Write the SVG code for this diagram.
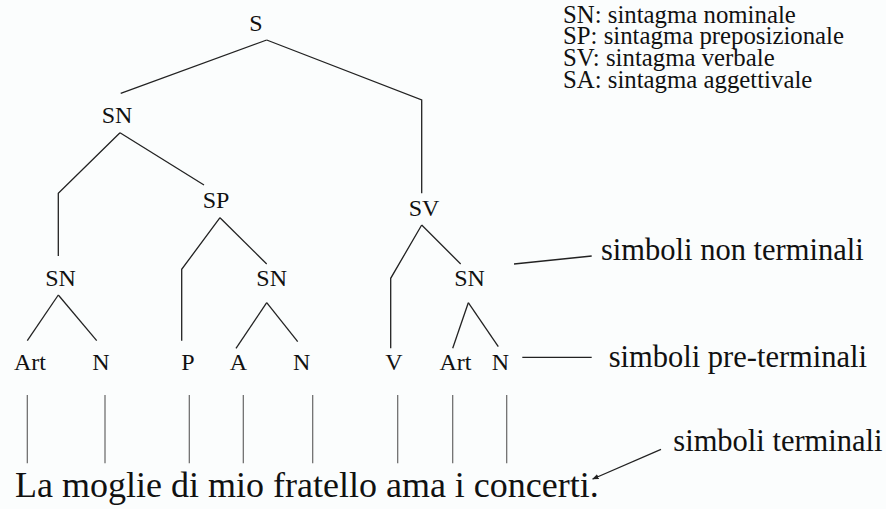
<svg xmlns="http://www.w3.org/2000/svg" width="886" height="509" viewBox="0 0 886 509" font-family="'Liberation Serif', serif">
  <style>
    .bg { fill: #fbfdfd; }
    .lbl { font-size: 24px; fill: #111; text-anchor: middle; }
    .legend { font-size: 24.8px; fill: #111; }
    .note { font-size: 30.5px; fill: #111; }
    .sentence { font-size: 36px; fill: #111; }
    .edge { fill: none; stroke: #222; stroke-width: 1.3; }
    .leaf { fill: none; stroke: #666; stroke-width: 1.2; }
    .pointer { fill: none; stroke: #222; stroke-width: 1.3; }
  </style>
  <defs>
    <marker id="tip" viewBox="0 0 10 10" refX="9" refY="5" markerWidth="5" markerHeight="5" orient="auto">
      <path d="M0,1 L10,5 L0,9 Z" fill="#222"/>
    </marker>
  </defs>

  <rect class="bg" x="0" y="0" width="886" height="509"/>

  <!-- legend of phrase abbreviations -->
  <g id="legend">
    <text class="legend" x="563" y="22.7">SN: sintagma nominale</text>
    <text class="legend" x="563" y="44.4">SP: sintagma preposizionale</text>
    <text class="legend" x="563" y="66.1">SV: sintagma verbale</text>
    <text class="legend" x="563" y="87.8">SA: sintagma aggettivale</text>
  </g>

  <!-- tree branches -->
  <g id="connectors">
    <polyline class="edge" points="266.7,40 120.7,93.3"/>
    <polyline class="edge" points="266.7,40 421.7,100 421.7,193.3"/>
    <polyline class="edge" points="120,132.7 58.3,193.3 58.3,256"/>
    <polyline class="edge" points="120,132.7 204,185"/>
    <polyline class="edge" points="220,217.7 181.7,269.3 181.7,340.7"/>
    <polyline class="edge" points="220,217.7 266.7,264"/>
    <polyline class="edge" points="58.3,295 27.3,340.7"/>
    <polyline class="edge" points="58.3,295 96.7,340.7"/>
    <polyline class="edge" points="266.7,302.7 236,348.3"/>
    <polyline class="edge" points="266.7,302.7 297.7,341.7"/>
    <polyline class="edge" points="421.7,225 390.7,278.3 390.7,348.3"/>
    <polyline class="edge" points="421.7,225 460.7,264"/>
    <polyline class="edge" points="468.3,302.7 452.7,348.3"/>
    <polyline class="edge" points="468.3,302.7 498.3,346.7"/>
    <!-- pre-terminal to word links -->
    <line class="leaf" x1="27.3" y1="395" x2="27.3" y2="463.3"/>
    <line class="leaf" x1="105" y1="395" x2="105" y2="463.3"/>
    <line class="leaf" x1="189.3" y1="395" x2="189.3" y2="463.3"/>
    <line class="leaf" x1="243.3" y1="395" x2="243.3" y2="463.3"/>
    <line class="leaf" x1="312.7" y1="395" x2="312.7" y2="463.3"/>
    <line class="leaf" x1="397.7" y1="395" x2="397.7" y2="463.3"/>
    <line class="leaf" x1="452.7" y1="395" x2="452.7" y2="463.3"/>
    <line class="leaf" x1="506.7" y1="395" x2="506.7" y2="463.3"/>
    <!-- annotation pointers -->
    <line class="pointer" x1="514" y1="264" x2="591.7" y2="256"/>
    <line class="pointer" x1="522.3" y1="357.3" x2="591.7" y2="357.3"/>
    <line class="pointer" x1="661" y1="449.3" x2="592.7" y2="479" marker-end="url(#tip)"/>
  </g>

  <!-- nodes -->
  <g id="node-S"><text class="lbl" x="256" y="30.7">S</text></g>
  <g id="node-SN1"><text class="lbl" x="117" y="122.7">SN</text></g>
  <g id="node-SP"><text class="lbl" x="216" y="208.3">SP</text></g>
  <g id="node-SV"><text class="lbl" x="424" y="216">SV</text></g>
  <g id="node-SN2"><text class="lbl" x="60.5" y="286">SN</text></g>
  <g id="node-SN3"><text class="lbl" x="271.7" y="286">SN</text></g>
  <g id="node-SN4"><text class="lbl" x="469.5" y="286">SN</text></g>
  <g id="node-Art1"><text class="lbl" x="30" y="370">Art</text></g>
  <g id="node-N1"><text class="lbl" x="101" y="370">N</text></g>
  <g id="node-P"><text class="lbl" x="188" y="370">P</text></g>
  <g id="node-A"><text class="lbl" x="238.3" y="370">A</text></g>
  <g id="node-N2"><text class="lbl" x="301.7" y="370">N</text></g>
  <g id="node-V"><text class="lbl" x="394" y="370">V</text></g>
  <g id="node-Art2"><text class="lbl" x="455.5" y="370">Art</text></g>
  <g id="node-N3"><text class="lbl" x="500.3" y="370">N</text></g>

  <!-- sentence -->
  <g id="sentence">
    <text class="sentence" x="15" y="497">La moglie di mio fratello ama i concerti.</text>
  </g>

  <!-- level annotations -->
  <g id="note-nonterminal"><text class="note" x="601" y="260">simboli non terminali</text></g>
  <g id="note-preterminal"><text class="note" x="608.7" y="366.7">simboli pre-terminali</text></g>
  <g id="note-terminal"><text class="note" x="673.3" y="450.7">simboli terminali</text></g>
</svg>
